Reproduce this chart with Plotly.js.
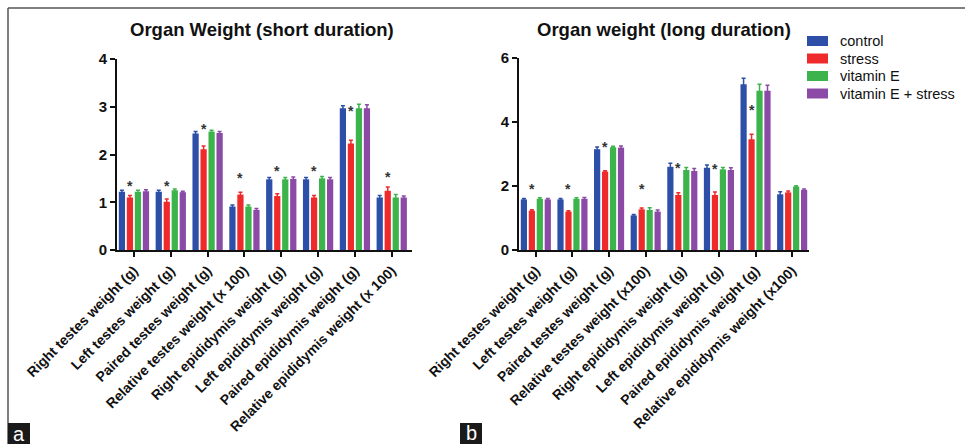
<!DOCTYPE html>
<html>
<head>
<meta charset="utf-8">
<script src="https://cdn.plot.ly/plotly-3.0.1.min.js"></script>
<style>html,body{margin:0;padding:0;background:#fff;}#chart{width:965px;height:444px;}</style>
</head>
<body>
<div id="chart"></div>
<script>
// ---- data ----
const groups = ["control", "stress", "vitamin E", "vitamin E + stress"];
const colors = ["#2e4fa8", "#ee2a2a", "#3cb44b", "#8a4aa6"];

const catsShort = ["Right testes weight (g)", "Left testes weight (g)", "Paired testes weight (g)",
  "Relative testes weight (x 100)", "Right epididymis weight (g)", "Left epididymis weight (g)",
  "Paired epididymis weight (g)", "Relative epididymis weight (x 100)"];
const shortControl = [1.22, 1.22, 2.44, 0.91, 1.48, 1.48, 2.97, 1.10];
const shortStress  = [1.10, 1.01, 2.11, 1.16, 1.13, 1.10, 2.23, 1.24];
const shortVitE    = [1.22, 1.25, 2.48, 0.91, 1.48, 1.50, 2.97, 1.10];
const shortVitES   = [1.23, 1.21, 2.45, 0.84, 1.49, 1.48, 2.97, 1.10];
const shortErrControl = [0.03, 0.03, 0.04, 0.03, 0.04, 0.04, 0.05, 0.04];
const shortErrStress  = [0.04, 0.06, 0.07, 0.05, 0.05, 0.04, 0.07, 0.08];
const shortErrVitE    = [0.03, 0.03, 0.03, 0.03, 0.04, 0.04, 0.08, 0.06];
const shortErrVitES   = [0.03, 0.02, 0.03, 0.03, 0.04, 0.04, 0.07, 0.03];
const shortStarY = [1.40, 1.40, 2.60, 1.57, 1.72, 1.72, 2.97, 1.59];

const catsLong = ["Right testes weight (g)", "Left testes weight (g)", "Paired testes weight (g)",
  "Relative testes weight (x100)", "Right epididymis weight (g)", "Left epididymis weight (g)",
  "Paired epididymis weight (g)", "Relative epididymis weight (x100)"];
const longControl = [1.58, 1.58, 3.15, 1.08, 2.60, 2.57, 5.18, 1.74];
const longStress  = [1.23, 1.20, 2.45, 1.27, 1.72, 1.72, 3.46, 1.80];
const longVitE    = [1.60, 1.60, 3.21, 1.25, 2.50, 2.52, 4.98, 1.98];
const longVitES   = [1.58, 1.60, 3.20, 1.20, 2.47, 2.50, 4.98, 1.88];
const longErrControl = [0.03, 0.03, 0.07, 0.03, 0.11, 0.09, 0.19, 0.08];
const longErrStress  = [0.03, 0.03, 0.03, 0.04, 0.07, 0.09, 0.16, 0.04];
const longErrVitE    = [0.03, 0.03, 0.03, 0.07, 0.08, 0.06, 0.20, 0.03];
const longErrVitES   = [0.03, 0.04, 0.05, 0.05, 0.08, 0.07, 0.17, 0.03];
const longStarY = [2.0, 2.0, 3.3, 2.0, 2.65, 2.62, 4.47, null];

const titleShort = "Organ Weight (short duration)";
const titleLong = "Organ weight (long duration)";

// ---- build ----
const W = 965, H = 444;
const px = x => x / W;
const py = y => 1 - y / H;
const FONT = "Liberation Sans, Arial, Helvetica, sans-serif";

const shortVals = [shortControl, shortStress, shortVitE, shortVitES];
const shortErrs = [shortErrControl, shortErrStress, shortErrVitE, shortErrVitES];
const longVals = [longControl, longStress, longVitE, longVitES];
const longErrs = [longErrControl, longErrStress, longErrVitE, longErrVitES];

const traces = [];
groups.forEach((g, i) => {
  traces.push({
    type: "bar", name: g, x: catsShort, y: shortVals[i], xaxis: "x", yaxis: "y",
    marker: {color: colors[i]}, showlegend: false,
    error_y: {type: "data", array: shortErrs[i], visible: true, color: colors[i], thickness: 1.5, width: 2}
  });
});
groups.forEach((g, i) => {
  traces.push({
    type: "bar", name: g, x: catsLong, y: longVals[i], xaxis: "x2", yaxis: "y2",
    marker: {color: colors[i]}, showlegend: false,
    error_y: {type: "data", array: longErrs[i], visible: true, color: colors[i], thickness: 1.5, width: 2}
  });
});

const axisCommon = {
  showline: true, linecolor: "#111", linewidth: 2, ticks: "outside", ticklen: 5, tickwidth: 2,
  tickcolor: "#111", showgrid: false, zeroline: false, automargin: false, fixedrange: true
};

const annotations = [];
annotations.push({xref: "paper", yref: "paper", x: px(262), y: py(30), text: titleShort, showarrow: false,
  xanchor: "center", yanchor: "middle", font: {family: FONT, size: 18.5, color: "#111", weight: "bold"}});
annotations.push({xref: "paper", yref: "paper", x: px(664), y: py(30), text: titleLong, showarrow: false,
  xanchor: "center", yanchor: "middle", font: {family: FONT, size: 18.5, color: "#111", weight: "bold"}});

catsShort.forEach((c, i) => {
  if (shortStarY[i] != null) annotations.push({xref: "x", yref: "y", x: c, y: shortStarY[i], text: "*",
    showarrow: false, xshift: -4, yshift: -3, font: {family: FONT, size: 14, color: "#333", weight: "bold"}});
});
catsLong.forEach((c, i) => {
  if (longStarY[i] != null) annotations.push({xref: "x2", yref: "y2", x: c, y: longStarY[i], text: "*",
    showarrow: false, xshift: -4, yshift: -3, font: {family: FONT, size: 14, color: "#333", weight: "bold"}});
});

// legend (custom, wide swatches)
const shapes = [];
const legRows = [41, 58.5, 76, 93.5];
groups.forEach((g, i) => {
  shapes.push({type: "rect", xref: "paper", yref: "paper", x0: px(807), x1: px(828),
    y0: py(legRows[i] + 5), y1: py(legRows[i] - 5), fillcolor: colors[i], line: {width: 0}});
  annotations.push({xref: "paper", yref: "paper", x: px(838), y: py(legRows[i]), text: g, showarrow: false,
    xanchor: "left", yanchor: "middle", font: {family: FONT, size: 14.5, color: "#111"}});
});

// frame and panel labels
shapes.push({type: "line", xref: "paper", yref: "paper", x0: px(8), x1: 1, y0: py(8), y1: py(8),
  line: {color: "#555", width: 1.5}});
shapes.push({type: "line", xref: "paper", yref: "paper", x0: px(8), x1: px(8), y0: py(8), y1: 0,
  line: {color: "#555", width: 1.5}});
shapes.push({type: "rect", xref: "paper", yref: "paper", x0: px(8), x1: px(30), y0: 0, y1: py(423),
  fillcolor: "#1a1a1a", line: {width: 0}});
shapes.push({type: "rect", xref: "paper", yref: "paper", x0: px(460), x1: px(482), y0: 0, y1: py(423),
  fillcolor: "#1a1a1a", line: {width: 0}});
annotations.push({xref: "paper", yref: "paper", x: px(19), y: py(434), text: "a", showarrow: false,
  xanchor: "center", yanchor: "middle", font: {family: FONT, size: 20, color: "#fff"}});
annotations.push({xref: "paper", yref: "paper", x: px(471), y: py(433), text: "b", showarrow: false,
  xanchor: "center", yanchor: "middle", font: {family: FONT, size: 20, color: "#fff"}});

const tickFontX = {family: FONT, size: 14, color: "#111", weight: "bold"};
const tickFontY = {family: FONT, size: 15, color: "#111", weight: "bold"};

const layout = {
  width: W, height: H,
  margin: {l: 0, r: 0, t: 0, b: 0},
  paper_bgcolor: "#fff", plot_bgcolor: "rgba(0,0,0,0)",
  barmode: "group", bargap: 0.13, bargroupgap: 0.22,
  showlegend: false,
  xaxis: Object.assign({}, axisCommon, {domain: [px(117), px(412)], anchor: "y", tickangle: -45,
    tickfont: tickFontX, range: [-0.46, 7.55]}),
  yaxis: Object.assign({}, axisCommon, {domain: [py(250), py(59)], anchor: "x", range: [0, 4], dtick: 1,
    tickfont: tickFontY}),
  xaxis2: Object.assign({}, axisCommon, {domain: [px(519), px(809)], anchor: "y2", tickangle: -45,
    tickfont: tickFontX, range: [-0.46, 7.46]}),
  yaxis2: Object.assign({}, axisCommon, {domain: [py(250), py(58)], anchor: "x2", range: [0, 6], dtick: 2,
    tickfont: tickFontY}),
  annotations: annotations,
  shapes: shapes
};

Plotly.newPlot("chart", traces, layout, {displayModeBar: false, staticPlot: true});
</script>
</body>
</html>
